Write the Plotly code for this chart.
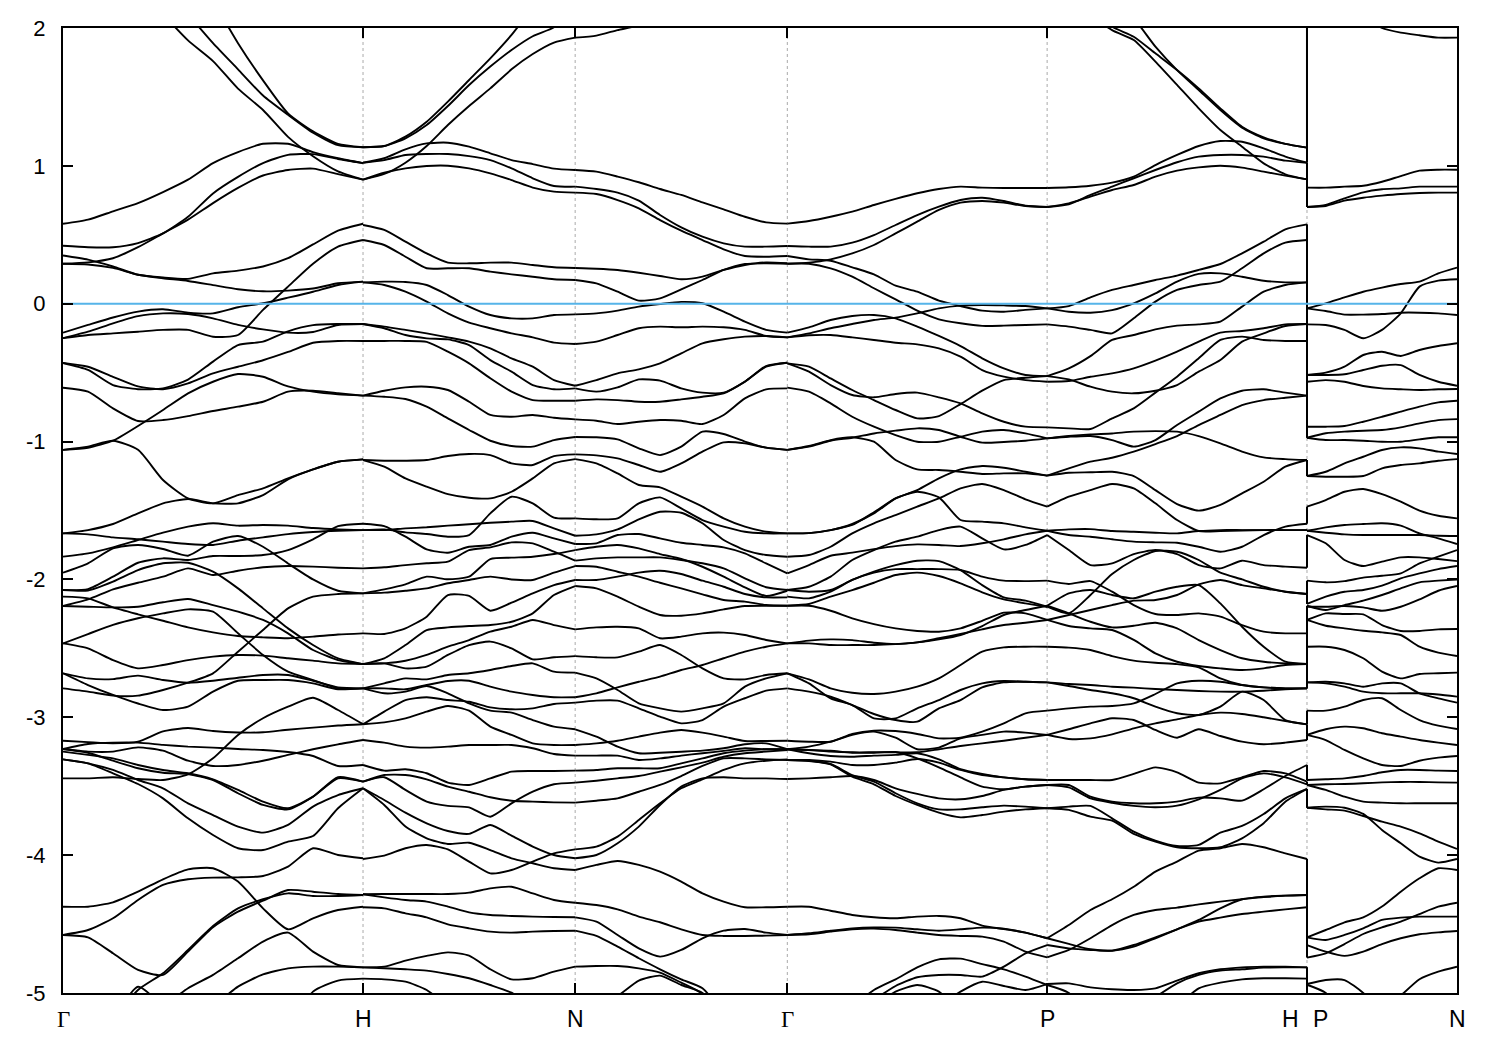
import numpy as np
import plotly.graph_objects as go

N = None
# High-symmetry points along the k path
k_nodes = [0.0, 1.0, 1.7071, 2.4142, 3.2802, 4.1463, 4.6463]
k_labels = ["Γ", "H", "N", "Γ", "P", "H", "P", "N"]
y_ticks = [2, 1, 0, -1, -2, -3, -4, -5]
y_tick_text = ["2", "1", "0", "-1", "-2", "-3", "-4", "-5"]
fermi_level = 0.0

# Gamma -> H (13 samples per band)
bands_gamma_h = [
 [N,N,N,N,N,N,2.2,1.89,1.62,1.38,1.25,1.16,1.135],
 [N,N,N,N,N,2.1,1.89,1.70,1.51,1.37,1.24,1.15,1.135],
 [N,N,N,N,2.1,1.91,1.76,1.56,1.405,1.21,1.07,.96,.90],
 [.58,.61,.67,.73,.81,.90,1.02,1.10,1.16,1.16,1.10,1.055,1.02],
 [.42,.41,.41,.44,.51,.63,.80,.92,1.02,1.08,1.085,1.05,1.02],
 [.29,.30,.33,.41,.51,.61,.73,.84,.93,.97,.98,.94,.90],
 [.35,.32,.27,.21,.19,.18,.22,.24,.27,.33,.43,.53,.58],
 [.29,.285,.26,.21,.185,.165,.135,.105,.09,.095,.11,.148,.16],
 [-.25,-.227,-.215,-.203,-.19,-.19,-.24,-.227,-.045,.124,.29,.414,.462],
 [-.21,-.154,-.10,-.057,-.04,-.065,-.07,-.026,.003,.044,.087,.136,.16],
 [-.25,-.203,-.142,-.09,-.07,-.075,-.106,-.154,-.186,-.21,-.205,-.154,-.147],
 [-.43,-.48,-.59,-.62,-.614,-.55,-.42,-.30,-.275,-.20,-.155,-.147,-.147],
 [-.43,-.457,-.53,-.60,-.62,-.578,-.505,-.457,-.41,-.35,-.283,-.27,-.27],
 [-1.06,-1.045,-.994,-.887,-.771,-.65,-.566,-.51,-.53,-.60,-.638,-.658,-.667],
 [-.609,-.638,-.759,-.851,-.844,-.815,-.778,-.747,-.711,-.638,-.631,-.65,-.667],
 [-1.06,-1.037,-.994,-1.06,-1.279,-1.412,-1.448,-1.388,-1.339,-1.267,-1.202,-1.146,-1.129],
 [-1.666,-1.642,-1.598,-1.521,-1.448,-1.417,-1.448,-1.448,-1.388,-1.274,-1.202,-1.146,-1.129],
 [-1.666,-1.673,-1.695,-1.709,-1.726,-1.743,-1.75,-1.719,-1.695,-1.671,-1.656,-1.647,-1.642],
 [-1.835,-1.811,-1.767,-1.714,-1.661,-1.617,-1.593,-1.61,-1.605,-1.61,-1.627,-1.637,-1.642],
 [-1.951,-1.883,-1.775,-1.75,-1.779,-1.828,-1.726,-1.685,-1.763,-1.884,-2.0,-2.082,-2.101],
 [-2.077,-2.07,-1.98,-1.879,-1.847,-1.859,-1.83,-1.83,-1.823,-1.787,-1.709,-1.613,-1.596],
 [-2.077,-2.08,-2.016,-1.932,-1.883,-1.879,-1.944,-2.065,-2.21,-2.355,-2.476,-2.573,-2.614],
 [-2.193,-2.145,-2.072,-2.024,-1.98,-1.92,-1.968,-1.937,-1.912,-1.903,-1.907,-1.915,-1.92],
 [-2.125,-2.137,-2.203,-2.253,-2.3,-2.348,-2.384,-2.41,-2.42,-2.427,-2.415,-2.4,-2.391],
 [-2.193,-2.198,-2.203,-2.198,-2.166,-2.142,-2.186,-2.234,-2.294,-2.391,-2.512,-2.585,-2.614],
 [-2.464,-2.396,-2.33,-2.282,-2.246,-2.217,-2.234,-2.391,-2.548,-2.669,-2.73,-2.79,-2.79],
 [-2.464,-2.5,-2.585,-2.645,-2.621,-2.585,-2.56,-2.548,-2.553,-2.572,-2.589,-2.609,-2.614],
 [-2.79,-2.814,-2.843,-2.843,-2.802,-2.749,-2.681,-2.524,-2.367,-2.21,-2.125,-2.106,-2.101],
 [-2.681,-2.718,-2.723,-2.698,-2.73,-2.749,-2.735,-2.713,-2.693,-2.693,-2.735,-2.783,-2.79],
 [-2.681,-2.766,-2.838,-2.9,-2.947,-2.923,-2.814,-2.735,-2.73,-2.73,-2.754,-2.797,-2.79],
 [-3.17,-3.18,-3.189,-3.177,-3.102,-3.078,-3.1,-3.11,-3.109,-3.09,-3.075,-3.06,-3.05],
 [-3.443,-3.443,-3.435,-3.448,-3.455,-3.414,-3.298,-3.128,-3.007,-2.923,-2.858,-2.947,-3.05],
 [-3.23,-3.194,-3.184,-3.184,-3.2,-3.213,-3.22,-3.23,-3.237,-3.252,-3.281,-3.353,-3.346],
 [-3.23,-3.249,-3.249,-3.218,-3.242,-3.315,-3.353,-3.346,-3.315,-3.273,-3.232,-3.196,-3.165],
 [-3.23,-3.257,-3.315,-3.37,-3.402,-3.411,-3.455,-3.551,-3.636,-3.668,-3.576,-3.435,-3.467],
 [-3.249,-3.273,-3.298,-3.346,-3.382,-3.406,-3.45,-3.527,-3.612,-3.66,-3.576,-3.443,-3.467],
 [-3.305,-3.334,-3.406,-3.484,-3.588,-3.733,-3.854,-3.95,-3.963,-3.902,-3.861,-3.66,-3.515],
 [-3.305,-3.334,-3.382,-3.455,-3.515,-3.624,-3.709,-3.793,-3.837,-3.781,-3.648,-3.564,-3.515],
 [-4.374,-4.374,-4.342,-4.265,-4.175,-4.103,-4.095,-4.192,-4.386,-4.538,-4.458,-4.398,-4.374],
 [-4.579,-4.543,-4.458,-4.325,-4.216,-4.175,-4.163,-4.161,-4.151,-4.083,-3.95,-3.999,-4.023],
 [-4.579,-4.596,-4.712,-4.833,-4.869,-4.7,-4.523,-4.41,-4.33,-4.253,-4.265,-4.282,-4.289],
 [N,N,-5.2,-4.978,-4.857,-4.688,-4.514,-4.386,-4.32,-4.277,-4.296,-4.296,-4.289],
 [N,N,-5.2,-4.955,-5.1,N,N,N,N,N,N,N,N],
 [N,N,N,N,-5.1,-4.966,-4.869,-4.748,-4.627,-4.562,-4.7,-4.797,-4.814],
 [N,N,N,N,N,N,-5.1,-4.954,-4.865,-4.821,-4.809,-4.809,-4.814],
 [N,N,N,N,N,N,N,N,N,-5.3,-4.99,-4.91,-4.896],
]

# H -> N (11 samples per band)
bands_h_n = [
 [1.135,1.144,1.212,1.32,1.466,1.623,1.78,1.95,2.15,N,N],
 [1.135,1.144,1.2,1.296,1.434,1.586,1.72,1.84,1.94,2.005,2.15],
 [.90,.941,1.023,1.144,1.296,1.434,1.562,1.70,1.811,1.894,1.93],
 [1.023,1.055,1.12,1.163,1.168,1.139,1.091,1.042,1.013,.98,.97],
 [1.023,1.042,1.079,1.086,1.086,1.071,1.042,.982,.91,.854,.849],
 [.90,.95,.982,.999,1.001,.982,.946,.897,.842,.813,.806],
 [.571,.535,.45,.365,.298,.293,.298,.298,.281,.264,.259],
 [.462,.426,.341,.257,.257,.257,.233,.213,.196,.177,.172],
 [.155,.16,.158,.136,.063,-.021,-.082,-.106,-.106,-.082,-.077],
 [.155,.136,.087,.015,-.07,-.137,-.178,-.215,-.244,-.282,-.292],
 [-.147,-.178,-.227,-.251,-.259,-.3,-.409,-.493,-.59,-.621,-.614],
 [-.147,-.166,-.19,-.215,-.244,-.275,-.324,-.396,-.457,-.554,-.595],
 [-.27,-.27,-.27,-.277,-.348,-.433,-.541,-.638,-.699,-.704,-.704],
 [-.667,-.631,-.607,-.602,-.626,-.711,-.807,-.82,-.807,-.827,-.839],
 [-.667,-.675,-.691,-.747,-.832,-.916,-.994,-1.032,-1.037,-.989,-.967],
 [-1.134,-1.139,-1.139,-1.134,-1.105,-1.09,-1.098,-1.158,-1.17,-1.105,-1.093],
 [-1.134,-1.182,-1.267,-1.327,-1.381,-1.407,-1.412,-1.364,-1.267,-1.158,-1.127],
 [-1.642,-1.637,-1.659,-1.671,-1.69,-1.678,-1.521,-1.4,-1.448,-1.552,-1.557],
 [-1.642,-1.642,-1.63,-1.622,-1.61,-1.6,-1.589,-1.581,-1.576,-1.63,-1.683],
 [-1.596,-1.613,-1.69,-1.782,-1.806,-1.763,-1.75,-1.69,-1.661,-1.702,-1.743],
 [-1.92,-1.912,-1.896,-1.883,-1.871,-1.787,-1.767,-1.731,-1.738,-1.799,-1.864],
 [-2.101,-2.072,-2.036,-1.98,-1.999,-1.98,-1.852,-1.842,-1.835,-1.816,-1.787],
 [-2.101,-2.096,-2.082,-2.065,-2.028,-2.004,-1.98,-2.0,-2.004,-1.951,-1.903],
 [-2.391,-2.396,-2.355,-2.27,-2.113,-2.12,-2.227,-2.169,-2.101,-2.041,-2.004],
 [-2.614,-2.572,-2.476,-2.367,-2.348,-2.338,-2.331,-2.307,-2.246,-2.113,-2.048],
 [-2.614,-2.609,-2.645,-2.633,-2.548,-2.476,-2.451,-2.5,-2.58,-2.565,-2.556],
 [-2.614,-2.609,-2.59,-2.548,-2.488,-2.44,-2.379,-2.343,-2.294,-2.331,-2.362],
 [-2.79,-2.754,-2.718,-2.725,-2.693,-2.681,-2.657,-2.628,-2.609,-2.669,-2.676],
 [-2.79,-2.79,-2.797,-2.766,-2.737,-2.735,-2.778,-2.814,-2.838,-2.855,-2.855],
 [-2.79,-2.826,-2.814,-2.773,-2.826,-2.899,-2.952,-2.966,-3.02,-3.068,-3.087],
 [-3.051,-2.959,-2.875,-2.855,-2.875,-2.887,-2.928,-2.942,-2.935,-2.904,-2.894],
 [-3.051,-3.037,-3.008,-2.959,-2.918,-2.952,-3.068,-3.128,-3.189,-3.201,-3.201],
 [-3.165,-3.184,-3.213,-3.22,-3.213,-3.201,-3.201,-3.201,-3.225,-3.266,-3.278],
 [-3.346,-3.387,-3.377,-3.406,-3.474,-3.491,-3.443,-3.394,-3.39,-3.39,-3.387],
 [-3.467,-3.419,-3.419,-3.45,-3.503,-3.54,-3.58,-3.605,-3.612,-3.617,-3.619],
 [-3.467,-3.435,-3.527,-3.612,-3.643,-3.653,-3.721,-3.624,-3.54,-3.486,-3.474],
 [-3.515,-3.6,-3.692,-3.769,-3.825,-3.846,-3.781,-3.859,-3.938,-3.999,-4.023],
 [-3.515,-3.636,-3.793,-3.878,-3.919,-3.91,-3.963,-4.023,-4.059,-4.095,-4.108],
 [-4.028,-4.004,-3.95,-3.926,-3.958,-4.047,-4.132,-4.108,-4.047,-3.987,-3.958],
 [-4.284,-4.282,-4.282,-4.282,-4.282,-4.272,-4.241,-4.229,-4.277,-4.325,-4.345],
 [-4.284,-4.306,-4.325,-4.337,-4.373,-4.415,-4.434,-4.441,-4.446,-4.449,-4.451],
 [-4.378,-4.386,-4.422,-4.451,-4.502,-4.531,-4.555,-4.562,-4.555,-4.55,-4.548],
 [-4.814,-4.809,-4.765,-4.731,-4.705,-4.729,-4.828,-4.901,-4.893,-4.845,-4.809],
 [-4.814,-4.821,-4.828,-4.838,-4.862,-4.893,-4.942,-4.998,-5.1,N,N],
 [-4.896,-4.901,-4.918,-4.978,-5.1,N,N,N,N,N,N],
]

# N -> Gamma (11 samples per band)
bands_n_gamma = [
 [1.93,1.945,1.985,2.02,2.1,N,N,N,N,N,N],
 [.97,.958,.922,.881,.832,.789,.735,.685,.631,.59,.581],
 [.849,.832,.806,.748,.644,.554,.486,.438,.414,.414,.419],
 [.806,.796,.752,.692,.607,.53,.462,.394,.346,.341,.346],
 [.259,.254,.245,.225,.201,.177,.196,.245,.281,.3,.293],
 [.172,.148,.087,.022,.039,.104,.172,.245,.288,.293,.29],
 [-.077,-.07,-.05,-.021,-.002,.013,.003,-.058,-.13,-.19,-.21],
 [-.292,-.275,-.227,-.178,-.166,-.171,-.166,-.171,-.19,-.234,-.244],
 [-.614,-.638,-.607,-.549,-.558,-.614,-.645,-.645,-.566,-.452,-.428],
 [-.595,-.554,-.505,-.476,-.433,-.36,-.287,-.258,-.239,-.234,-.244],
 [-.704,-.694,-.699,-.711,-.711,-.694,-.675,-.65,-.565,-.457,-.428],
 [-.839,-.849,-.873,-.856,-.844,-.849,-.873,-.807,-.687,-.621,-.614],
 [-.967,-.969,-.984,-1.049,-1.098,-1.037,-.928,-.945,-1.0,-1.044,-1.06],
 [-1.093,-1.1,-1.122,-1.17,-1.219,-1.158,-1.073,-1.006,-1.013,-1.044,-1.06],
 [-1.127,-1.158,-1.231,-1.315,-1.332,-1.4,-1.472,-1.557,-1.617,-1.654,-1.666],
 [-1.557,-1.564,-1.557,-1.448,-1.405,-1.485,-1.569,-1.617,-1.654,-1.666,-1.666],
 [-1.683,-1.673,-1.637,-1.564,-1.509,-1.516,-1.593,-1.714,-1.787,-1.823,-1.835],
 [-1.743,-1.738,-1.678,-1.671,-1.702,-1.734,-1.75,-1.767,-1.811,-1.884,-1.956],
 [-1.864,-1.847,-1.84,-1.84,-1.84,-1.859,-1.883,-1.92,-1.992,-2.057,-2.077],
 [-1.787,-1.763,-1.75,-1.775,-1.816,-1.852,-1.908,-1.98,-2.057,-2.12,-2.082],
 [-1.903,-1.908,-1.944,-1.98,-2.024,-2.065,-2.108,-2.149,-2.161,-2.186,-2.191],
 [-2.004,-2.004,-1.98,-1.951,-1.937,-1.961,-2.009,-2.053,-2.106,-2.13,-2.13],
 [-2.048,-2.065,-2.125,-2.198,-2.258,-2.263,-2.246,-2.217,-2.193,-2.191,-2.191],
 [-2.556,-2.565,-2.565,-2.524,-2.476,-2.548,-2.645,-2.718,-2.725,-2.693,-2.681],
 [-2.362,-2.348,-2.343,-2.355,-2.427,-2.415,-2.391,-2.386,-2.403,-2.439,-2.464],
 [-2.676,-2.718,-2.802,-2.899,-2.935,-2.959,-2.935,-2.899,-2.778,-2.718,-2.681],
 [-2.855,-2.826,-2.783,-2.742,-2.705,-2.657,-2.621,-2.572,-2.524,-2.488,-2.464],
 [-2.894,-2.879,-2.879,-2.935,-2.995,-3.044,-3.02,-2.923,-2.862,-2.807,-2.79],
 [-3.201,-3.189,-3.17,-3.14,-3.111,-3.092,-3.111,-3.14,-3.172,-3.172,-3.17],
 [-3.087,-3.14,-3.213,-3.261,-3.257,-3.25,-3.242,-3.225,-3.196,-3.189,-3.232],
 [-3.278,-3.278,-3.278,-3.31,-3.298,-3.278,-3.261,-3.244,-3.225,-3.232,-3.232],
 [-3.387,-3.382,-3.37,-3.37,-3.37,-3.334,-3.298,-3.261,-3.242,-3.232,-3.232],
 [-3.619,-3.605,-3.588,-3.54,-3.491,-3.426,-3.353,-3.298,-3.298,-3.305,-3.31],
 [-3.474,-3.46,-3.443,-3.426,-3.394,-3.363,-3.329,-3.286,-3.261,-3.249,-3.237],
 [-4.023,-3.999,-3.914,-3.793,-3.636,-3.503,-3.443,-3.435,-3.443,-3.443,-3.448],
 [-4.108,-4.071,-4.042,-4.071,-4.12,-4.192,-4.277,-4.337,-4.378,-4.378,-4.374],
 [-3.958,-3.938,-3.866,-3.745,-3.624,-3.515,-3.45,-3.382,-3.334,-3.315,-3.305],
 [-4.345,-4.362,-4.393,-4.446,-4.487,-4.538,-4.579,-4.586,-4.586,-4.584,-4.579],
 [-4.451,-4.482,-4.579,-4.676,-4.736,-4.688,-4.603,-4.548,-4.536,-4.562,-4.579],
 [-4.548,-4.586,-4.664,-4.748,-4.828,-4.901,-4.966,-5.15,N,N,N],
 [-4.809,-4.804,-4.804,-4.821,-4.852,-4.925,-5.007,-5.2,N,N,N],
 [N,-5.1,-5.022,-4.91,-4.874,-4.942,-5.0,-5.2,N,N,N],
]

# Gamma -> P (13 samples per band)
bands_gamma_p = [
 [.581,.6,.631,.668,.716,.76,.801,.832,.849,.842,.839,.839,.839],
 [.419,.414,.414,.443,.498,.571,.643,.704,.752,.769,.745,.711,.702],
 [.29,.298,.322,.365,.426,.51,.595,.68,.733,.745,.733,.709,.702],
 [.346,.322,.312,.264,.213,.131,.087,.022,-.017,-.05,-.058,-.045,-.034],
 [.29,.29,.257,.196,.112,.032,-.05,-.113,-.142,-.161,-.159,-.154,-.15],
 [-.244,-.215,-.178,-.147,-.118,-.101,-.07,-.034,-.014,-.009,-.012,-.017,-.034],
 [-.21,-.171,-.118,-.089,-.082,-.106,-.166,-.234,-.307,-.396,-.469,-.517,-.525],
 [-.244,-.229,-.227,-.244,-.263,-.283,-.295,-.324,-.384,-.481,-.529,-.554,-.566],
 [-.433,-.457,-.542,-.626,-.699,-.771,-.832,-.815,-.728,-.631,-.554,-.537,-.525],
 [-.433,-.493,-.59,-.662,-.679,-.655,-.645,-.679,-.723,-.795,-.856,-.892,-.897],
 [-.609,-.638,-.723,-.82,-.892,-.953,-1.001,-1.001,-.965,-.928,-.916,-.941,-.977],
 [-1.06,-1.037,-.994,-.972,-.941,-.921,-.904,-.916,-.965,-1.008,-1.003,-.994,-.977],
 [-1.06,-1.032,-.989,-.969,-1.001,-1.134,-1.202,-1.206,-1.219,-1.235,-1.231,-1.231,-1.247],
 [-1.666,-1.664,-1.642,-1.598,-1.521,-1.412,-1.352,-1.267,-1.202,-1.177,-1.19,-1.219,-1.247],
 [-1.666,-1.664,-1.642,-1.605,-1.513,-1.412,-1.364,-1.405,-1.569,-1.581,-1.593,-1.622,-1.647],
 [-1.835,-1.823,-1.763,-1.666,-1.593,-1.533,-1.472,-1.412,-1.339,-1.308,-1.352,-1.419,-1.472],
 [-1.956,-1.896,-1.828,-1.806,-1.78,-1.758,-1.746,-1.75,-1.758,-1.738,-1.709,-1.673,-1.647],
 [-2.077,-2.053,-1.98,-1.859,-1.787,-1.726,-1.69,-1.642,-1.617,-1.702,-1.782,-1.75,-1.678],
 [-2.077,-2.089,-2.077,-2.004,-1.944,-1.896,-1.864,-1.867,-1.932,-2.041,-2.13,-2.154,-2.198],
 [-2.125,-2.137,-2.089,-2.004,-1.951,-1.925,-1.925,-1.925,-1.932,-1.98,-2.009,-2.012,-2.009],
 [-2.191,-2.178,-2.125,-2.077,-2.024,-1.968,-1.951,-1.975,-2.028,-2.094,-2.145,-2.174,-2.198],
 [-2.191,-2.191,-2.227,-2.282,-2.324,-2.355,-2.374,-2.379,-2.355,-2.3,-2.241,-2.246,-2.294],
 [-2.464,-2.444,-2.435,-2.44,-2.459,-2.469,-2.457,-2.427,-2.396,-2.362,-2.331,-2.314,-2.294],
 [-2.464,-2.464,-2.476,-2.476,-2.476,-2.469,-2.457,-2.435,-2.403,-2.338,-2.258,-2.222,-2.191],
 [-2.681,-2.725,-2.79,-2.822,-2.831,-2.814,-2.778,-2.718,-2.621,-2.524,-2.493,-2.488,-2.488],
 [-2.681,-2.754,-2.863,-2.911,-3.008,-3.008,-2.935,-2.875,-2.802,-2.754,-2.737,-2.742,-2.747],
 [-2.79,-2.814,-2.851,-2.911,-2.976,-3.02,-3.032,-2.935,-2.875,-2.783,-2.747,-2.742,-2.747],
 [-3.17,-3.177,-3.177,-3.121,-3.097,-3.1,-3.121,-3.153,-3.148,-3.104,-3.044,-2.971,-2.952],
 [-3.232,-3.213,-3.177,-3.128,-3.104,-3.148,-3.232,-3.22,-3.153,-3.128,-3.104,-3.111,-3.128],
 [-3.232,-3.237,-3.242,-3.257,-3.257,-3.252,-3.298,-3.363,-3.436,-3.503,-3.522,-3.503,-3.491],
 [-3.232,-3.237,-3.249,-3.254,-3.254,-3.254,-3.254,-3.232,-3.208,-3.189,-3.17,-3.148,-3.128],
 [-3.232,-3.261,-3.281,-3.286,-3.278,-3.273,-3.261,-3.305,-3.377,-3.411,-3.436,-3.45,-3.455],
 [-3.31,-3.31,-3.322,-3.346,-3.346,-3.329,-3.303,-3.329,-3.382,-3.419,-3.436,-3.45,-3.455],
 [-3.31,-3.315,-3.339,-3.419,-3.467,-3.551,-3.624,-3.668,-3.668,-3.653,-3.641,-3.648,-3.66],
 [-3.31,-3.317,-3.342,-3.431,-3.486,-3.571,-3.636,-3.692,-3.726,-3.709,-3.684,-3.668,-3.66],
 [-3.448,-3.443,-3.435,-3.426,-3.455,-3.515,-3.556,-3.588,-3.595,-3.571,-3.527,-3.503,-3.491],
 [-4.374,-4.374,-4.403,-4.434,-4.451,-4.458,-4.446,-4.441,-4.458,-4.511,-4.536,-4.562,-4.603],
 [-4.579,-4.567,-4.548,-4.531,-4.524,-4.526,-4.538,-4.548,-4.538,-4.526,-4.534,-4.562,-4.603],
 [-4.579,-4.574,-4.555,-4.538,-4.533,-4.543,-4.562,-4.579,-4.586,-4.591,-4.627,-4.7,-4.741],
 [N,N,N,-5.1,-4.978,-4.901,-4.814,-4.756,-4.751,-4.79,-4.828,-4.881,-4.942],
 [N,N,N,N,-5.05,-4.949,-4.886,-4.869,-4.869,-4.881,-4.809,-4.712,-4.652],
 [N,N,N,N,-5.1,-4.99,-4.942,-4.99,-5.15,N,N,N,N],
 [N,N,N,N,N,N,N,-5.1,-4.99,-4.918,-4.949,-4.978,-4.935],
]

# P -> H (13 samples per band)
bands_p_h = [
 [N,N,2.4,2.2,2.07,1.865,1.695,1.55,1.405,1.277,1.2,1.159,1.132],
 [N,2.3,2.15,2.01,1.937,1.816,1.695,1.562,1.417,1.284,1.207,1.159,1.132],
 [N,2.25,2.1,1.985,1.913,1.756,1.587,1.417,1.26,1.139,1.018,.939,.902],
 [.839,.845,.856,.878,.922,1.006,1.079,1.144,1.18,1.175,1.127,1.067,1.023],
 [.702,.721,.789,.849,.91,.97,1.026,1.067,1.079,1.079,1.067,1.038,1.023],
 [.702,.728,.777,.825,.861,.922,.965,.989,1.001,.987,.958,.929,.902],
 [-.034,-.017,.046,.1,.136,.172,.204,.245,.288,.365,.45,.54,.576],
 [-.034,-.058,-.065,-.046,.003,.075,.16,.216,.22,.196,.167,.155,.155],
 [-.15,-.166,-.19,-.215,-.106,.015,.1,.136,.16,.257,.365,.443,.462],
 [-.525,-.469,-.38,-.263,-.227,-.186,-.159,-.15,-.13,-.021,.087,.136,.155],
 [-.525,-.549,-.602,-.638,-.65,-.631,-.59,-.493,-.408,-.275,-.215,-.162,-.147],
 [-.566,-.561,-.53,-.505,-.469,-.413,-.348,-.275,-.21,-.198,-.178,-.15,-.147],
 [-.897,-.904,-.909,-.832,-.759,-.645,-.529,-.396,-.263,-.239,-.263,-.27,-.27],
 [-.977,-.965,-.96,-.989,-1.037,-.989,-.88,-.783,-.687,-.631,-.621,-.645,-.667],
 [-.977,-.96,-.948,-.941,-.928,-.924,-.928,-.96,-1.013,-1.073,-1.115,-1.127,-1.134],
 [-1.247,-1.226,-1.223,-1.219,-1.25,-1.352,-1.453,-1.501,-1.46,-1.376,-1.291,-1.182,-1.134],
 [-1.247,-1.194,-1.146,-1.117,-1.073,-1.018,-.96,-.88,-.807,-.735,-.699,-.682,-.667],
 [-1.647,-1.678,-1.69,-1.709,-1.726,-1.731,-1.734,-1.763,-1.799,-1.763,-1.678,-1.617,-1.596],
 [-1.647,-1.637,-1.635,-1.649,-1.654,-1.661,-1.666,-1.649,-1.642,-1.642,-1.642,-1.642,-1.642],
 [-1.472,-1.4,-1.352,-1.308,-1.339,-1.448,-1.569,-1.649,-1.649,-1.645,-1.642,-1.642,-1.642],
 [-1.678,-1.787,-1.896,-1.883,-1.816,-1.787,-1.816,-1.896,-1.92,-1.864,-1.896,-1.907,-1.915],
 [-2.009,-2.033,-2.012,-2.089,-2.186,-2.251,-2.258,-2.246,-2.27,-2.331,-2.379,-2.391,-2.391],
 [-2.294,-2.338,-2.355,-2.367,-2.439,-2.536,-2.597,-2.628,-2.645,-2.657,-2.645,-2.621,-2.614],
 [-2.191,-2.246,-2.307,-2.348,-2.336,-2.314,-2.355,-2.44,-2.512,-2.572,-2.597,-2.609,-2.614],
 [-2.294,-2.258,-2.222,-2.186,-2.154,-2.149,-2.113,-2.036,-2.004,-2.041,-2.065,-2.089,-2.106],
 [-2.198,-2.246,-2.113,-1.961,-1.859,-1.794,-1.799,-1.859,-1.951,-2.0,-2.053,-2.089,-2.106],
 [-2.191,-2.101,-2.077,-2.113,-2.137,-2.089,-2.053,-2.041,-2.174,-2.343,-2.488,-2.597,-2.614],
 [-2.488,-2.495,-2.512,-2.556,-2.589,-2.604,-2.614,-2.638,-2.718,-2.766,-2.783,-2.79,-2.79],
 [-2.747,-2.759,-2.766,-2.778,-2.785,-2.795,-2.802,-2.809,-2.814,-2.814,-2.807,-2.797,-2.79],
 [-2.747,-2.773,-2.802,-2.826,-2.862,-2.923,-2.971,-2.983,-2.923,-2.814,-2.875,-3.02,-3.051],
 [-2.952,-2.935,-2.923,-2.918,-2.899,-2.831,-2.754,-2.735,-2.742,-2.766,-2.783,-2.79,-2.79],
 [-3.128,-3.157,-3.153,-3.124,-3.08,-3.044,-3.015,-2.983,-2.966,-2.976,-3.0,-3.027,-3.051],
 [-3.128,-3.087,-3.044,-3.007,-3.02,-3.092,-3.148,-3.087,-3.136,-3.177,-3.196,-3.184,-3.165],
 [-3.491,-3.508,-3.588,-3.62,-3.643,-3.653,-3.641,-3.595,-3.527,-3.443,-3.407,-3.436,-3.486],
 [-3.491,-3.491,-3.576,-3.612,-3.624,-3.624,-3.612,-3.583,-3.588,-3.605,-3.522,-3.426,-3.346],
 [-3.66,-3.648,-3.643,-3.733,-3.83,-3.895,-3.934,-3.926,-3.837,-3.788,-3.702,-3.588,-3.52],
 [-3.66,-3.672,-3.721,-3.75,-3.846,-3.902,-3.943,-3.95,-3.943,-3.878,-3.769,-3.612,-3.52],
 [-3.455,-3.455,-3.455,-3.455,-3.411,-3.363,-3.399,-3.474,-3.479,-3.436,-3.39,-3.407,-3.467],
 [-4.603,-4.507,-4.398,-4.32,-4.229,-4.12,-4.047,-3.967,-3.95,-3.919,-3.943,-3.987,-4.028],
 [-4.603,-4.644,-4.683,-4.693,-4.664,-4.603,-4.538,-4.47,-4.386,-4.32,-4.301,-4.294,-4.289],
 [-4.741,-4.688,-4.603,-4.507,-4.434,-4.398,-4.381,-4.357,-4.337,-4.32,-4.304,-4.294,-4.289],
 [-4.652,-4.676,-4.688,-4.693,-4.652,-4.596,-4.538,-4.482,-4.453,-4.427,-4.41,-4.393,-4.378],
 [-4.942,-5.0,-5.2,N,N,N,N,N,N,N,N,N,N],
 [-4.935,-4.93,-4.959,-4.973,-4.978,-4.966,-4.91,-4.857,-4.828,-4.814,-4.809,-4.809,-4.814],
 [N,N,N,N,N,-5.03,-4.93,-4.869,-4.838,-4.828,-4.816,-4.814,-4.814],
 [N,N,N,N,N,N,-5.1,-4.966,-4.925,-4.901,-4.893,-4.893,-4.896],
]

# P -> N (9 samples per band)
bands_p_n = [
 [N,N,2.2,2.1,2.0,1.966,1.947,1.93,1.93],
 [.842,.842,.849,.856,.885,.926,.965,.972,.972],
 [.702,.716,.764,.808,.83,.837,.849,.849,.849],
 [.702,.709,.748,.769,.784,.796,.803,.806,.806],
 [-.034,.003,.046,.087,.117,.143,.16,.22,.262],
 [-.034,-.053,-.079,-.079,-.075,-.065,-.065,-.07,-.082],
 [-.15,-.154,-.19,-.251,-.19,-.07,.124,.167,.177],
 [-.517,-.5,-.457,-.372,-.348,-.379,-.336,-.307,-.287],
 [-.517,-.517,-.512,-.481,-.45,-.445,-.517,-.566,-.595],
 [-.566,-.554,-.566,-.597,-.614,-.621,-.626,-.621,-.619],
 [-.892,-.892,-.887,-.856,-.82,-.783,-.747,-.716,-.704],
 [-.972,-.94,-.928,-.921,-.916,-.897,-.868,-.844,-.837],
 [-.972,-.989,-.989,-.994,-1.001,-1.001,-.984,-.969,-.969],
 [-1.25,-1.219,-1.158,-1.11,-1.061,-1.042,-1.049,-1.073,-1.09],
 [-1.25,-1.255,-1.255,-1.25,-1.194,-1.17,-1.158,-1.139,-1.127],
 [-1.472,-1.424,-1.364,-1.344,-1.381,-1.436,-1.501,-1.538,-1.557],
 [-1.647,-1.622,-1.605,-1.598,-1.593,-1.61,-1.666,-1.702,-1.743],
 [-1.647,-1.661,-1.673,-1.678,-1.678,-1.678,-1.678,-1.683,-1.685],
 [-1.678,-1.738,-1.859,-1.903,-1.871,-1.84,-1.84,-1.852,-1.867],
 [-2.009,-2.021,-2.012,-1.987,-1.973,-1.956,-1.884,-1.835,-1.787],
 [-2.178,-2.125,-2.089,-2.077,-2.045,-1.992,-1.956,-1.925,-1.903],
 [-2.191,-2.222,-2.186,-2.154,-2.113,-2.065,-2.021,-2.009,-2.0],
 [-2.198,-2.198,-2.193,-2.203,-2.227,-2.198,-2.145,-2.082,-2.048],
 [-2.294,-2.246,-2.251,-2.253,-2.331,-2.374,-2.374,-2.362,-2.36],
 [-2.294,-2.336,-2.355,-2.372,-2.384,-2.403,-2.488,-2.531,-2.556],
 [-2.488,-2.488,-2.512,-2.572,-2.669,-2.718,-2.686,-2.681,-2.676],
 [-2.747,-2.742,-2.754,-2.778,-2.754,-2.754,-2.826,-2.863,-2.894],
 [-2.747,-2.754,-2.778,-2.814,-2.826,-2.826,-2.826,-2.835,-2.85],
 [-2.952,-2.952,-2.923,-2.875,-2.862,-2.947,-3.02,-3.061,-3.085],
 [-3.128,-3.087,-3.068,-3.08,-3.116,-3.14,-3.165,-3.184,-3.201],
 [-3.128,-3.165,-3.237,-3.298,-3.346,-3.353,-3.315,-3.293,-3.281],
 [-3.455,-3.45,-3.443,-3.426,-3.399,-3.382,-3.382,-3.387,-3.39],
 [-3.491,-3.486,-3.484,-3.479,-3.472,-3.469,-3.469,-3.472,-3.474],
 [-3.491,-3.527,-3.576,-3.612,-3.619,-3.624,-3.624,-3.624,-3.624],
 [-3.656,-3.648,-3.656,-3.701,-3.817,-3.914,-4.011,-4.054,-4.028],
 [-3.656,-3.668,-3.677,-3.716,-3.757,-3.793,-3.842,-3.902,-3.955],
 [-4.596,-4.543,-4.487,-4.451,-4.373,-4.265,-4.168,-4.095,-4.108],
 [-4.596,-4.615,-4.579,-4.531,-4.47,-4.453,-4.446,-4.446,-4.446],
 [-4.652,-4.7,-4.731,-4.7,-4.645,-4.603,-4.574,-4.56,-4.55],
 [-4.743,-4.712,-4.645,-4.572,-4.524,-4.482,-4.427,-4.374,-4.345],
 [-4.935,-4.906,-4.906,-5.0,-5.15,-5.02,-4.9,-4.845,-4.809],
 [-4.94,-5.0,-5.2,N,N,N,N,N,N],
]

# Band energies above and below the window at the H|P break
off_window_top_at_p = [3.0, 3.0, 2.6]
off_window_bottom_at_p = [-5.3]

segments = [
    (k_nodes[0], k_nodes[1], bands_gamma_h),
    (k_nodes[1], k_nodes[2], bands_h_n),
    (k_nodes[2], k_nodes[3], bands_n_gamma),
    (k_nodes[3], k_nodes[4], bands_gamma_p),
    (k_nodes[4], k_nodes[5], bands_p_h),
    (k_nodes[5], k_nodes[6], bands_p_n),
]

fig = go.Figure()
for ka, kb, bands in segments:
    for band in bands:
        k = np.linspace(ka, kb, len(band))
        fig.add_trace(go.Scatter(
            x=k, y=band, mode="lines", hoverinfo="skip", showlegend=False,
            line=dict(color="black", width=1.9, shape="spline", smoothing=0.6),
        ))

# Vertical jumps at the H|P break: bands connect in energy order
ends_h = sorted([b[-1] for b in bands_p_h if b[-1] is not None], reverse=True)
starts_p = off_window_top_at_p + sorted(
    [b[0] for b in bands_p_n if b[0] is not None], reverse=True
) + off_window_bottom_at_p
for eh, ep in zip(ends_h, starts_p):
    fig.add_trace(go.Scatter(
        x=[k_nodes[5], k_nodes[5]], y=[eh, ep], mode="lines", hoverinfo="skip",
        showlegend=False, line=dict(color="black", width=2),
    ))

# Fermi level
fig.add_trace(go.Scatter(
    x=[k_nodes[0], k_nodes[-1]], y=[fermi_level, fermi_level], mode="lines",
    hoverinfo="skip", showlegend=False, line=dict(color="#56B4E9", width=2),
))

shapes = [
    dict(type="line", x0=k, x1=k, y0=-5, y1=2, xref="x", yref="y", layer="below",
         line=dict(color="#aaaaaa", width=1, dash="3px,3px"))
    for k in k_nodes[1:-1]
]

label_k = [k_nodes[0], k_nodes[1], k_nodes[2], k_nodes[3], k_nodes[4], k_nodes[5], k_nodes[5], k_nodes[6]]
label_shift = [0, 0, 0, 0, 0, -16, 14, 0]
annotations = []
for text, k, shift in zip(k_labels, label_k, label_shift):
    annotations.append(dict(
        x=k, y=-5, xref="x", yref="y", text=text, showarrow=False, xshift=shift,
        yshift=-26, yanchor="middle", xanchor="center",
        font=dict(family="Liberation Serif" if text == "Γ" else "Liberation Sans",
                  size=23, color="black"),
    ))

fig.update_layout(
    width=1484, height=1034, autosize=False,
    margin=dict(l=55, r=35, t=20, b=49),
    paper_bgcolor="white", plot_bgcolor="white", showlegend=False,
    shapes=shapes, annotations=annotations,
    xaxis=dict(range=[k_nodes[0], k_nodes[-1]], showgrid=False, zeroline=False,
               automargin=False,
               tickmode="array", tickvals=k_nodes[1:-1], ticktext=[""] * 5,
               ticks="inside", ticklen=10, tickwidth=2, tickcolor="black",
               mirror="allticks", showline=True, linecolor="black", linewidth=2),
    yaxis=dict(range=[-5, 2], showgrid=False, zeroline=False,
               automargin=False,
               tickmode="array", tickvals=y_ticks, ticktext=y_tick_text,
               ticks="inside", ticklen=10, tickwidth=2, tickcolor="black",
               mirror="allticks", showline=True, linecolor="black", linewidth=2,
               tickfont=dict(family="Liberation Sans", size=22, color="black"),
               ticklabelstandoff=11),
)

fig.write_html("out.html")
